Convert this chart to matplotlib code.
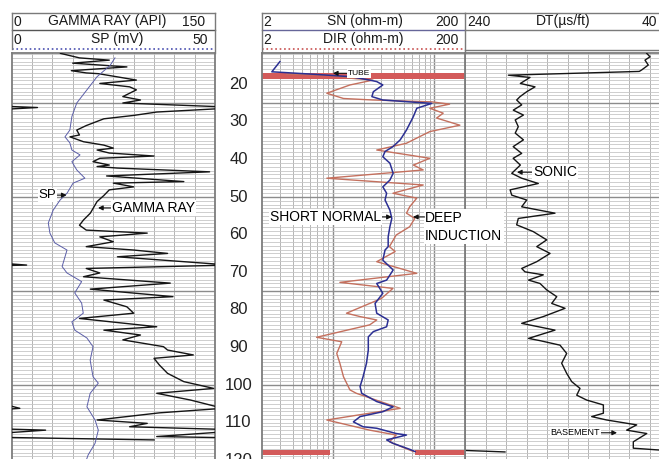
import numpy as np
import matplotlib
matplotlib.use('Agg')
import matplotlib.pyplot as plt
from matplotlib.ticker import MultipleLocator, FixedLocator, NullFormatter
import matplotlib.transforms as mtransforms

plt.rcParams['font.family'] = ['Liberation Sans', 'DejaVu Sans']

# ---------------- data ----------------
gr_depth = [11.8, 13.0, 13.6, 14.4, 15.4, 16.4, 17.0, 17.2, 18.9, 19.8, 20.7, 21.5, 23.3, 24.2, 25.0,
            26.2, 27.4, 28.3, 29.2, 31.0, 32.2, 33.5, 34.0, 35.3, 36.2, 37.0, 37.5, 38.3, 39.1, 39.7,
            40.6, 41.5, 41.9, 42.3, 43.3, 44.4, 45.9, 46.3, 47.3, 48.1, 49.6, 51.2, 54.3, 56.1, 57.5,
            58.8, 59.6, 60.6, 61.9, 63.2, 64.1, 65.0, 65.9, 68.1, 69.0, 70.2, 71.2, 72.9, 74.5, 76.5,
            77.4, 79.2, 80.9, 82.3, 84.5, 85.4, 86.7, 88.0, 89.8, 90.7, 92.0, 92.9, 94.7, 96.9, 99.1,
            100.9, 102.2, 104.0, 106.2, 107.4, 109.3, 110.2, 111.1, 112.0, 113.7, 114.6]
gr_api = [36, 50, 72, 45, 85, 44, 55, 64, 92, 65, 87, 92, 82, 95, 82,
          169, 107, 90, 68, 55, 48, 50, 43, 53, 68, 75, 63, 72, 105, 65,
          60, 72, 63, 78, 146, 70, 127, 75, 90, 72, 68, 63, 58, 53, 50,
          55, 100, 65, 75, 55, 90, 115, 78, 161, 55, 65, 53, 117, 58, 119,
          68, 85, 90, 50, 107, 68, 95, 82, 112, 115, 134, 105, 109, 115, 127,
          149, 107, 132, 156, 109, 63, 100, 87, 175, 107, 255]

sp_depth = [13.0, 15.0, 18.0, 21.5, 25.0, 28.6, 32.2, 34.0, 35.6, 37.5, 38.8, 40.6, 42.8, 45.0,
            46.3, 49.0, 50.8, 53.5, 56.9, 59.6, 62.2, 64.1, 68.5, 70.2, 72.5, 75.5, 78.2, 80.9,
            83.2, 85.4, 87.5, 89.8, 93.4, 97.8, 99.5, 102.2, 105.8, 109.3, 112.0, 115.5, 118.6, 121.0]
sp_mv = [25.4, 24.2, 21.0, 18.5, 16.0, 14.8, 14.3, 13.1, 14.3, 14.8, 16.8, 14.8, 16.0, 18.0,
         15.1, 13.6, 11.9, 10.2, 9.0, 9.4, 10.6, 13.6, 12.4, 13.6, 17.2, 15.5, 17.2, 17.6,
         14.8, 15.5, 18.5, 20.0, 19.3, 20.0, 21.3, 19.3, 18.5, 20.5, 21.3, 20.5, 18.8, 18.0]

sn_depth = [14.0, 16.7, 17.3, 18.0, 18.8, 19.3, 20.2, 22.0, 23.3, 24.2, 24.7, 25.1, 26.4, 28.6, 32.2,
            34.8, 36.6, 37.9, 39.3, 41.0, 43.7, 45.5, 47.3, 49.0, 50.8, 53.5, 55.7, 57.9, 60.6, 63.2,
            64.1, 66.8, 69.4, 72.1, 73.0, 75.6, 78.3, 80.9, 82.7, 84.5, 85.8, 87.2, 90.7, 94.2, 97.8,
            100.4, 102.2, 104.4, 105.8, 107.1, 108.4, 109.8, 111.1, 111.5, 112.9, 113.3, 114.6, 115.5,
            117.1, 117.7]
sn_ohm = [3.0, 2.5, 6.0, 15.0, 22.0, 27.0, 31.0, 25.0, 24.2, 31.0, 57.0, 94.0, 67.0, 62.0, 53.0,
          46.0, 39.0, 32.6, 31.0, 36.4, 39.2, 36.4, 31.0, 33.8, 32.6, 36.4, 38.0, 36.4, 35.0, 35.0,
          32.6, 31.0, 39.2, 33.8, 27.0, 31.0, 26.0, 27.0, 35.0, 33.8, 25.0, 22.3, 22.3, 21.4, 19.8,
          18.5, 19.2, 27.0, 39.2, 31.0, 18.5, 15.9, 19.8, 27.0, 42.0, 53.0, 33.8, 39.0,
          57.0, 64.5]

dir_depth = [17.3, 17.6, 18.0, 18.4, 18.9, 20.2, 22.4, 23.8, 24.2, 24.7, 25.3, 26.4, 27.7, 29.0, 30.9,
             32.6, 35.7, 37.5, 39.7, 41.5, 42.8, 45.0, 46.8, 49.0, 50.3, 52.6, 54.3, 55.7, 57.9, 60.1,
             63.2, 64.5, 67.2, 70.3, 72.7, 74.3, 77.0, 80.9, 81.8, 82.7, 84.0, 87.3, 88.5, 91.6, 94.2,
             97.8, 101.3, 102.2, 106.2, 109.3, 112.0, 113.3, 115.1, 117.7]
dir_ohm = [3.5, 9.0, 12.0, 14.7, 24.8, 14.7, 8.7, 12.7, 24.8, 94.5, 141.0, 90.0, 122.0, 105.0, 178.0,
           90.0, 53.0, 27.0, 90.0, 62.0, 77.5, 8.7, 77.5, 39.0, 67.0, 57.0, 53.0, 64.0, 57.0, 42.0,
           36.0, 41.0, 27.0, 67.0, 11.7, 39.0, 30.0, 13.6, 18.5, 27.0, 23.0, 6.9, 12.2, 10.9, 11.7,
           12.7, 14.7, 17.0, 46.0, 8.7, 23.0, 42.0, 36.0, 62.0]

dt_depth = [11.8, 12.7, 13.6, 14.9, 16.2, 16.6, 17.6, 18.2, 19.8, 20.7, 22.0, 23.3, 24.2, 25.5, 26.9,
            28.2, 29.5, 31.3, 33.0, 34.8, 36.6, 38.4, 39.7, 41.5, 43.7, 45.0, 46.4, 48.1, 49.5, 50.8,
            52.6, 54.3, 55.7, 57.4, 59.2, 61.4, 63.2, 65.0, 67.2, 69.0, 69.9, 70.7, 72.1, 73.0, 74.7,
            76.5, 78.3, 79.6, 81.8, 83.6, 85.4, 87.6, 88.2, 89.4, 91.6, 94.2, 96.9, 99.1, 100.9, 102.7,
            104.0, 105.3, 107.5, 108.4, 109.3, 110.6, 112.0, 112.9, 115.1, 116.8, 117.3, 117.6, 117.8]
dt_us = [62.7, 59.5, 64.4, 61.2, 67.6, 70.0, 197.7, 176.6, 186.0, 171.7, 179.8, 186.3, 189.6, 184.7, 192.9,
         183.0, 191.0, 188.0, 191.0, 183.0, 193.0, 184.7, 193.0, 186.0, 194.4, 184.7, 168.5, 196.0, 194.4, 179.8,
         184.7, 152.2, 188.0, 189.6, 173.4, 160.3, 170.0, 157.0, 170.0, 184.7, 181.5, 163.6, 178.0, 166.8, 160.3,
         150.5, 155.4, 142.4, 163.6, 184.7, 152.2, 178.0, 166.8, 147.3, 140.8, 145.7, 140.8, 135.9, 127.8, 131.0,
         121.3, 105.0, 105.0, 116.4, 101.8, 72.5, 82.3, 62.7, 75.8, 75.8, 50.0, 20.0, 1.0]

tube_depth = [17.0, 18.7]
td_depth = [117.3, 118.6]
td_left_ohm = [2, 9.4]
td_right_ohm = [64.5, 200]

depth_labels = [20, 30, 40, 50, 60, 70, 80, 90, 100, 110, 120]

# ---------------- layout ----------------
W, H = 659, 459
fig = plt.figure(figsize=(W / 100, H / 100), dpi=100)
top_px, bot_px = 52.7, 470.0
d_top, d_bot = 11.62, 122.6


def rect(x0, x1):
    return [x0 / W, 1 - bot_px / H, (x1 - x0) / W, (bot_px - top_px) / H]


GRID_MINOR = '#c6c6c6'
GRID_MAJOR = '#8c8c8c'
FRAME = '#7d7d7d'


def base_track(ax):
    ax.set_ylim(d_bot, d_top)
    ax.yaxis.set_major_locator(MultipleLocator(25))
    ax.yaxis.set_minor_locator(MultipleLocator(1))
    ax.grid(which='minor', axis='y', color=GRID_MINOR, lw=0.6)
    ax.grid(which='major', axis='y', color=GRID_MAJOR, lw=1.0)
    ax.tick_params(which='both', length=0, labelleft=False, labelbottom=False)
    ax.set_axisbelow(True)
    for s in ax.spines.values():
        s.set_color(FRAME)
        s.set_linewidth(1.3)


def vgrid(ax, xs, color='#b4b4b4', lw=0.7):
    for x in xs:
        ax.axvline(x, color=color, lw=lw, zorder=0.5)


# Track 1: GR + SP
ax1 = fig.add_axes(rect(11.7, 215))
base_track(ax1)
ax1.set_xlim(0, 150)
vgrid(ax1, np.arange(15, 150, 15))
ax1.plot(gr_api, gr_depth, color='#151515', lw=1.0, zorder=3)
ax1.plot(np.array(gr_api) - 150, gr_depth, color='#151515', lw=1.0, zorder=3)

ax1b = fig.add_axes(rect(11.7, 215))
ax1b.set_xlim(0, 50)
ax1b.set_ylim(d_bot, d_top)
ax1b.axis('off')
ax1b.patch.set_alpha(0)
ax1b.plot(sp_mv, sp_depth, color='#5b5ea8', lw=0.7, zorder=3)

# Depth column
axd = fig.add_axes(rect(215, 262))
axd.set_ylim(d_bot, d_top)
axd.set_xlim(0, 1)
axd.axis('off')
for dl in depth_labels:
    axd.text(0.5, dl, str(dl), ha='center', va='center', fontsize=12, color='#222222')

# Track 3: DT
ax3 = fig.add_axes(rect(465, 670))
base_track(ax3)
ax3.set_xlim(240, 40)
vgrid(ax3, np.arange(220, 40, -20))
ax3.plot(dt_us, dt_depth, color='#151515', lw=1.0, zorder=3)
ax3.plot(np.array(dt_us) + 200, dt_depth, color='#151515', lw=1.0, zorder=3)
ax3.set_zorder(2)

# Track 2: SN + DIR (log)
ax2 = fig.add_axes(rect(262, 465))
base_track(ax2)
ax2.set_xscale('log')
ax2.set_xlim(2, 200)
ax2.xaxis.set_major_formatter(NullFormatter())
ax2.xaxis.set_minor_formatter(NullFormatter())
vgrid(ax2, [3, 4, 5, 6, 7, 8, 9, 20, 30, 40, 50, 60, 70, 80, 90])
vgrid(ax2, [10, 100], color='#8c8c8c', lw=1.0)
ax2.fill_betweenx(tube_depth, 2, 200, color='#d35a5a', lw=0, zorder=2)
ax2.fill_betweenx(td_depth, td_left_ohm[0], td_left_ohm[1], color='#d35a5a', lw=0, zorder=2)
ax2.fill_betweenx(td_depth, td_right_ohm[0], td_right_ohm[1], color='#d35a5a', lw=0, zorder=2)
ax2.plot(dir_ohm, dir_depth, color='#c4705e', lw=1.0, zorder=3)
ax2.plot(sn_ohm, sn_depth, color='#2b2f93', lw=1.1, zorder=4)
ax2.set_zorder(3)

# ---------------- annotations ----------------
arw = dict(arrowstyle='-|>', color='#111111', lw=0.8, mutation_scale=7, shrinkA=0, shrinkB=0)
wbox = dict(fc='white', ec='none', pad=0.6)

ax1b.annotate('SP', xy=(13.5, 49.5), xytext=(11.0, 49.5), ha='right', va='center',
              fontsize=9.5, arrowprops=arw, bbox=wbox, zorder=5)
ax1.annotate('GAMMA RAY', xy=(63.7, 52.9), xytext=(74, 52.9), ha='left', va='center',
             fontsize=10, arrowprops=arw, bbox=wbox, zorder=5)
ax2.annotate('TUBE', xy=(10.0, 17.1), xytext=(14.1, 17.1), ha='left', va='center',
             fontsize=6, arrowprops=arw, bbox=dict(fc='white', ec='none', pad=0.8), zorder=5)
ax2.annotate('SHORT NORMAL', xy=(38.0, 55.3), xytext=(29.7, 55.3), ha='right', va='center',
             fontsize=10, arrowprops=arw, bbox=wbox, zorder=5)
ax2.text(80.7, 57.9, 'DEEP\nINDUCTION', ha='left', va='center', fontsize=10, linespacing=1.35,
         bbox=dict(fc='white', ec='none', pad=1.0), zorder=5, clip_on=False)
ax2.annotate('', xy=(61.5, 55.3), xytext=(80.0, 55.3), arrowprops=arw, zorder=5,
             annotation_clip=False)
ax3.annotate('SONIC', xy=(189.3, 43.4), xytext=(173.7, 43.4), ha='left', va='center',
             fontsize=10, arrowprops=arw, bbox=wbox, zorder=5)
ax3.annotate('BASEMENT', xy=(91.7, 112.7), xytext=(108.3, 112.7), ha='right', va='center',
             fontsize=6.5, arrowprops=arw, bbox=dict(fc='white', ec='none', pad=0.5), zorder=5)

# ---------------- header ----------------
axh = fig.add_axes([0, 0, 1, 1])
axh.set_xlim(0, W)
axh.set_ylim(H, 0)
axh.axis('off')
axh.patch.set_alpha(0)
axh.set_zorder(6)

hc = '#7a7a7a'
def hline(x0, x1, y, **kw):
    kw.setdefault('color', hc)
    kw.setdefault('lw', 1.0)
    axh.plot([x0, x1], [y, y], **kw)

def vline(x, y0, y1, **kw):
    kw.setdefault('color', hc)
    kw.setdefault('lw', 1.0)
    axh.plot([x, x], [y0, y1], **kw)

# track 1 header
hline(11.7, 215, 13)
hline(11.7, 215, 30, color='#555555')
hline(11.7, 215, 49, color='#4a4fb0', ls=':', lw=1.2)
vline(11.7, 13, 49)
vline(215, 13, 52.7)
# track 2 header
hline(262, 465, 13)
hline(262, 465, 30, color='#666699')
hline(262, 465, 49, color='#c85050', ls=':', lw=1.2)
vline(262, 13, 52.7)
vline(465, 13, 52.7)
# track 3 header
hline(465, 670, 13)
hline(465, 670, 30)
hline(465, 670, 50)

fs = 10
tc = '#1a1a1a'
axh.text(13, 21.5, '0', ha='left', va='center', fontsize=fs, color=tc)
axh.text(107.5, 21.5, 'GAMMA RAY (API)', ha='center', va='center', fontsize=fs, color=tc)
axh.text(205, 21.5, '150', ha='right', va='center', fontsize=fs, color=tc)
axh.text(13, 39.5, '0', ha='left', va='center', fontsize=fs, color=tc)
axh.text(117, 39.5, 'SP (mV)', ha='center', va='center', fontsize=fs, color=tc)
axh.text(208, 39.5, '50', ha='right', va='center', fontsize=fs, color=tc)

axh.text(263, 21.5, '2', ha='left', va='center', fontsize=fs, color=tc)
axh.text(365, 21.5, 'SN (ohm-m)', ha='center', va='center', fontsize=fs, color=tc)
axh.text(459, 21.5, '200', ha='right', va='center', fontsize=fs, color=tc)
axh.text(263, 39.5, '2', ha='left', va='center', fontsize=fs, color=tc)
axh.text(363, 39.5, 'DIR (ohm-m)', ha='center', va='center', fontsize=fs, color=tc)
axh.text(459, 39.5, '200', ha='right', va='center', fontsize=fs, color=tc)

axh.text(467, 21.5, '240', ha='left', va='center', fontsize=fs, color=tc)
axh.text(563, 21.5, 'DT(µs/ft)', ha='center', va='center', fontsize=fs, color=tc)
axh.text(642, 21.5, '40', ha='left', va='center', fontsize=fs, color=tc)

fig.savefig('out.png', dpi=100)
